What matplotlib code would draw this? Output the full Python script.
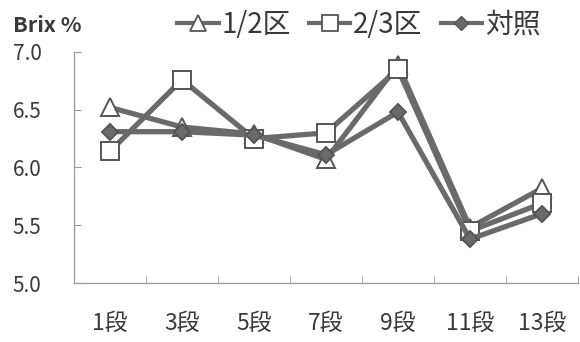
import matplotlib
matplotlib.use("Agg")
import matplotlib.pyplot as plt
import numpy as np

plt.rcParams['font.family'] = ['Noto Sans CJK JP', 'DejaVu Sans']

categories = ["1段", "3段", "5段", "7段", "9段", "11段", "13段"]
half_plot = [6.52, 6.35, 6.29, 6.07, 6.89, 5.48, 5.82]
two_thirds_plot = [6.14, 6.76, 6.25, 6.30, 6.85, 5.45, 5.69]
control = [6.31, 6.31, 6.28, 6.11, 6.48, 5.38, 5.60]
series_names = ["1/2区", "2/3区", "対照"]
y_ticks = [5.0, 5.5, 6.0, 6.5, 7.0]

line_color = "#6a6a6a"
edge_color = "#555555"
text_color = "#3a3a3a"

fig = plt.figure(figsize=(5.8, 3.42), dpi=100)
ax = fig.add_axes([0.1276, 0.1725, 0.8690, 0.6755])

x = np.arange(len(categories))
styles = [
    dict(marker="^", markersize=13, markerfacecolor="white"),
    dict(marker="s", markersize=13, markerfacecolor="white"),
    dict(marker="D", markersize=8, markerfacecolor=line_color),
]
handles = []
for vals, name, st in zip([half_plot, two_thirds_plot, control], series_names, styles):
    h, = ax.plot(x, vals, color=line_color, linewidth=3.8,
                 markeredgecolor=edge_color, markeredgewidth=1.4,
                 label=name, **st)
    handles.append(h)

ax.set_xlim(-0.5, len(categories) - 0.5)
ax.set_ylim(5.0, 7.0)
ax.set_yticks(y_ticks)
ax.set_yticklabels([f"{v:.1f}" for v in y_ticks])
ax.set_xticks(x)
ax.set_xticklabels(categories)
ax.set_xticks(np.arange(len(categories)) + 0.5, minor=True)

for side in ("top", "right"):
    ax.spines[side].set_visible(False)
for side in ("left", "bottom"):
    ax.spines[side].set_color("#9a9a9a")
    ax.spines[side].set_linewidth(0.9)

ax.tick_params(axis="x", which="major", length=0, pad=21, labelsize=16.5, labelcolor=text_color)
ax.tick_params(axis="x", which="minor", direction="in", length=5, color="#9a9a9a")
ax.tick_params(axis="y", direction="in", length=5, color="#9a9a9a", pad=44,
               labelsize=15, labelcolor=text_color)
for lbl in ax.get_yticklabels():
    lbl.set_horizontalalignment("left")

fig.text(0.022, 0.925, "Brix %", fontsize=15.5, fontweight="bold", color=text_color,
         va="center", ha="left")

fig.legend(handles=[
    plt.Line2D([], [], color=line_color, linewidth=3, marker="^", markersize=12,
               markerfacecolor="white", markeredgecolor=edge_color, markeredgewidth=1.3),
    plt.Line2D([], [], color=line_color, linewidth=3, marker="s", markersize=11,
               markerfacecolor="white", markeredgecolor=edge_color, markeredgewidth=1.3),
    plt.Line2D([], [], color=line_color, linewidth=3, marker="D", markersize=7,
               markerfacecolor=line_color, markeredgecolor=edge_color),
], labels=series_names, loc="center left", bbox_to_anchor=(0.305, 0.927), ncol=3,
    frameon=False, fontsize=20, handlelength=1.5, handletextpad=0.1,
    columnspacing=0.65, labelcolor=text_color, borderpad=0, borderaxespad=0)

fig.savefig("out.png", dpi=100, facecolor="white")
